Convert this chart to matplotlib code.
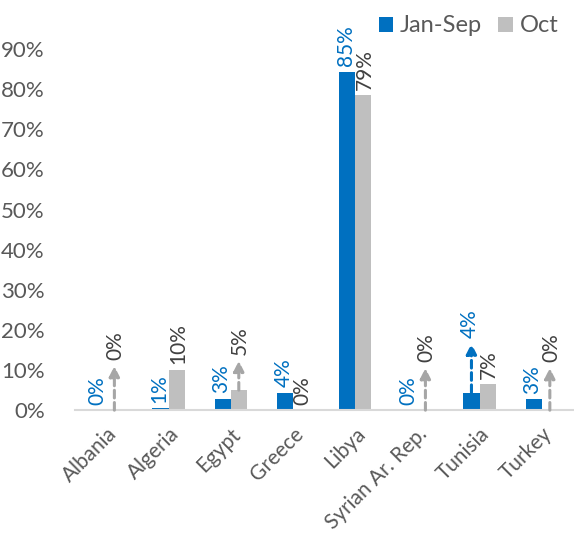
import numpy as np
import matplotlib
matplotlib.use('Agg')
from matplotlib import pyplot as plt

countries = ['Albania', 'Algeria', 'Egypt', 'Greece', 'Libya',
             'Syrian Ar. Rep.', 'Tunisia', 'Turkey']
jan_sep = [0.0, 0.5, 2.9, 4.4, 84.3, 0.0, 4.4, 2.7]
october = [0.0, 10.0, 5.0, 0.0, 78.5, 0.0, 6.5, 0.0]
jan_sep_labels = ['0%', '1%', '3%', '4%', '85%', '0%', '4%', '3%']
oct_labels = ['0%', '10%', '5%', '0%', '79%', '0%', '7%', '0%']
# dashed arrows: (series, country index, arrow top in %)
arrows = [('oct', 0, 11.0), ('oct', 2, 12.3), ('oct', 5, 10.5),
          ('oct', 7, 10.5), ('jan', 6, 16.6)]

BLUE = '#0070C0'
GREY = '#BFBFBF'
ARROW_GREY = '#A6A6A6'
TXT = '#595959'

plt.rcParams['font.family'] = ['Lato', 'DejaVu Sans']

fig = plt.figure(figsize=(5.74, 5.39), dpi=100)
ax = fig.add_axes([0.131, 0.239, 0.867, 0.670])

x = np.arange(len(countries))
w = 0.26
ax.bar(x - w / 2, jan_sep, w, color=BLUE, label='Jan-Sep')
ax.bar(x + w / 2, october, w, color=GREY, label='Oct')

arrow_top = {}
for series, i, top in arrows:
    xi = x[i] - w / 2 if series == 'jan' else x[i] + w / 2
    base = jan_sep[i] if series == 'jan' else october[i]
    col = BLUE if series == 'jan' else ARROW_GREY
    ax.annotate('', xy=(xi, top), xytext=(xi, base),
                arrowprops=dict(arrowstyle='-|>', color=col, lw=2.2,
                                linestyle=(0, (2.5, 1.5)), mutation_scale=15,
                                shrinkA=0, shrinkB=0))
    arrow_top[(series, i)] = top

for i in range(len(countries)):
    y1 = arrow_top.get(('jan', i), jan_sep[i])
    ax.annotate(jan_sep_labels[i], (x[i] - w / 2 - 0.02, y1), xytext=(0, 4),
                textcoords='offset points', rotation=90, ha='center',
                va='bottom', color=BLUE, fontsize=15)
    y2 = arrow_top.get(('oct', i), october[i])
    ax.annotate(oct_labels[i], (x[i] + w / 2 + 0.02, y2), xytext=(0, 4),
                textcoords='offset points', rotation=90, ha='center',
                va='bottom', color='#404040', fontsize=15)

ax.set_xlim(-0.5, len(countries) - 0.5)
ax.set_ylim(0, 90)
ax.set_yticks(np.arange(0, 91, 10))
ax.set_yticklabels([f'{v}%' for v in range(0, 91, 10)])
ax.set_xticks(x)
ax.set_xticklabels(countries, rotation=45, ha='right', rotation_mode='anchor')
ax.tick_params(axis='y', length=0, colors=TXT, labelsize=16, pad=22)
ax.tick_params(axis='x', length=0, colors=TXT, labelsize=15, pad=10)
for s in ['top', 'right', 'left']:
    ax.spines[s].set_visible(False)
ax.spines['bottom'].set_color('#D9D9D9')
ax.spines['bottom'].set_linewidth(1.5)

fig.legend(loc='center right', bbox_to_anchor=(1.01, 0.952), ncol=2,
           frameon=False, fontsize=17, handlelength=0.6, handleheight=0.6,
           handletextpad=0.3, columnspacing=0.7, labelcolor=TXT)

fig.savefig('out.png', dpi=100)
